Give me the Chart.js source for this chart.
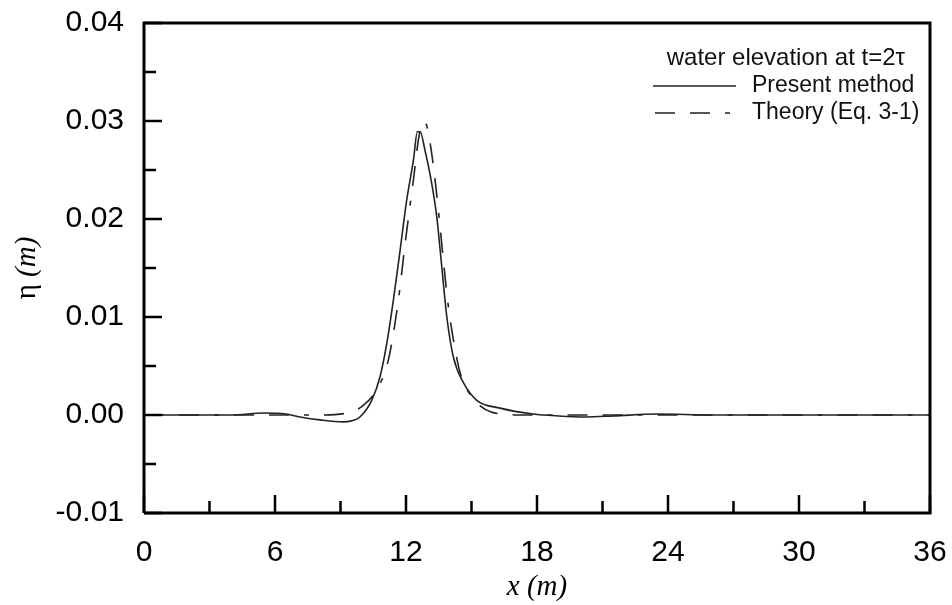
<!DOCTYPE html>
<html>
<head>
<meta charset="utf-8">
<script src="https://cdn.jsdelivr.net/npm/chart.js@4.4.0/dist/chart.umd.min.js"></script>
<style>
  html, body { margin: 0; padding: 0; background: #fff; }
  #wrap { width: 952px; height: 605px; }
</style>
</head>
<body>
<div id="wrap"><canvas id="grafico" width="952" height="605"></canvas></div>
<script>
// valores
const xPresente = [0, 2, 4, 5.5, 6.5, 7.15, 8.06, 9.12, 9.5, 9.89, 10.43, 10.81, 11.12, 11.42, 11.73, 12.03, 12.34, 12.52, 12.65, 12.87, 13.18, 13.41, 13.64, 13.87, 14.17, 14.63, 15.24, 16.31, 17.82, 19, 20.2, 21.5, 23.5, 26, 30, 36];
const yPresente = [0, 0, 0, 0.0002, 0.0001, -0.0002, -0.0005, -0.0007, -0.0006, -0.0002, 0.0015, 0.0039, 0.0073, 0.0117, 0.0168, 0.0219, 0.0260, 0.0289, 0.0289, 0.0270, 0.0236, 0.0202, 0.0151, 0.0100, 0.0059, 0.0033, 0.0015, 0.0007, 0.0001, -0.0001, -0.0002, -0.0001, 0.0001, 0, 0, 0];

const xTeoria = [0, 3, 6, 8, 9.3, 10.0, 10.66, 11.19, 11.65, 11.96, 12.34, 12.6, 12.85, 13.1, 13.33, 13.56, 13.71, 13.94, 14.17, 14.48, 14.9, 15.25, 15.9, 16.5, 17.1, 20, 24, 30, 36];
const yTeoria = [0, 0, 0, 0, 0.0002, 0.0009, 0.0026, 0.0056, 0.0117, 0.0175, 0.0240, 0.0285, 0.0300, 0.0278, 0.0240, 0.0192, 0.0158, 0.0111, 0.0077, 0.0043, 0.0022, 0.0012, 0.0003, 0.0001, 0, 0, 0, 0, 0];

const ticksX = [0, 6, 12, 18, 24, 30, 36];
const ticksY = [-0.01, 0.00, 0.01, 0.02, 0.03, 0.04];
const menoresX = [3, 9, 15, 21, 27, 33];
const menoresY = [-0.005, 0.005, 0.015, 0.025, 0.035];

const titulo = 'water elevation at t=2\u03c4';
const etiquetas = ['Present method', 'Theory (Eq. 3-1)'];

const trazo = [20, 15, 20, 15, 5, 15];

function puntos(xs, ys) {
    return xs.map((x, i) => ({ x: x, y: ys[i] }));
}

// marco, ticks hacia adentro, titulo del eje y y leyenda
const marcoYLeyenda = {
    id: 'marcoYLeyenda',
    afterDraw(chart) {
        const ctx = chart.ctx;
        const a = chart.chartArea;
        const sx = chart.scales.x;
        const sy = chart.scales.y;
        ctx.save();
        ctx.strokeStyle = '#000';
        ctx.lineWidth = 3;
        ctx.beginPath();
        ctx.moveTo(a.left, a.bottom);
        ctx.lineTo(a.left, a.top);
        ctx.lineTo(a.right, a.top);
        ctx.lineTo(a.right, a.bottom);
        ctx.lineTo(a.left, a.bottom);
        ctx.stroke();

        ctx.lineWidth = 2.5;
        ctx.beginPath();
        ticksX.forEach(v => {
            const p = sx.getPixelForValue(v);
            ctx.moveTo(p, a.bottom); ctx.lineTo(p, a.bottom - 18);
        });
        menoresX.forEach(v => {
            const p = sx.getPixelForValue(v);
            ctx.moveTo(p, a.bottom); ctx.lineTo(p, a.bottom - 12);
        });
        ticksY.forEach(v => {
            const p = sy.getPixelForValue(v);
            ctx.moveTo(a.left, p); ctx.lineTo(a.left + 18, p);
        });
        menoresY.forEach(v => {
            const p = sy.getPixelForValue(v);
            ctx.moveTo(a.left, p); ctx.lineTo(a.left + 12, p);
        });
        ctx.stroke();

        // titulo eje y: eta recta, (m) en cursiva
        ctx.save();
        ctx.translate(27, (a.top + a.bottom) / 2);
        ctx.rotate(-Math.PI / 2);
        ctx.fillStyle = '#000';
        ctx.textBaseline = 'middle';
        ctx.textAlign = 'left';
        const fEta = '29px "Liberation Serif", "Times New Roman", serif';
        const fM = 'italic 29px "Liberation Serif", "Times New Roman", serif';
        ctx.font = fEta;
        const w1 = ctx.measureText('\u03b7 ').width;
        ctx.font = fM;
        const w2 = ctx.measureText('(m)').width;
        const x0 = -(w1 + w2) / 2;
        ctx.font = fEta;
        ctx.fillText('\u03b7 ', x0, 0);
        ctx.font = fM;
        ctx.fillText('(m)', x0 + w1, 0);
        ctx.restore();

        ctx.fillStyle = '#111';
        ctx.font = '24px "Liberation Sans", Arial, sans-serif';
        ctx.textBaseline = 'middle';
        ctx.textAlign = 'right';
        ctx.fillText(titulo, 905, 58);
        ctx.font = '23px "Liberation Sans", Arial, sans-serif';
        ctx.textAlign = 'left';
        ctx.fillText(etiquetas[0], 752, 86);
        ctx.fillText(etiquetas[1], 752, 113);

        ctx.strokeStyle = '#222';
        ctx.lineWidth = 1.6;
        ctx.beginPath();
        ctx.moveTo(653, 86); ctx.lineTo(736, 86);
        ctx.stroke();
        ctx.setLineDash(trazo);
        ctx.beginPath();
        ctx.moveTo(655, 113); ctx.lineTo(736, 113);
        ctx.stroke();
        ctx.restore();
    }
};

const fuenteTicks = { family: '"Liberation Sans", Arial, sans-serif', size: 30 };
const fuenteTitulo = { family: '"Liberation Serif", "Times New Roman", serif', size: 29, style: 'italic' };

new Chart(document.getElementById('grafico').getContext('2d'), {
    type: 'line',
    data: {
        datasets: [{
            label: etiquetas[0],
            data: puntos(xPresente, yPresente),
            borderColor: '#222',
            borderWidth: 1.6,
            pointRadius: 0,
            fill: false,
            cubicInterpolationMode: 'monotone'
        }, {
            label: etiquetas[1],
            data: puntos(xTeoria, yTeoria),
            borderColor: '#222',
            borderWidth: 1.6,
            borderDash: trazo,
            pointRadius: 0,
            fill: false,
            cubicInterpolationMode: 'monotone'
        }]
    },
    options: {
        responsive: false,
        animation: false,
        layout: { padding: { top: 23, right: 22, left: 0, bottom: 0 } },
        plugins: {
            legend: { display: false },
            tooltip: { enabled: false }
        },
        scales: {
            x: {
                type: 'linear',
                min: 0,
                max: 36,
                afterBuildTicks: s => { s.ticks = ticksX.map(v => ({ value: v })); },
                afterFit: s => { s.height = 92; s.paddingLeft = 0; s.paddingRight = 0; },
                grid: { display: false, drawTicks: false },
                border: { display: false },
                ticks: { color: '#000', font: fuenteTicks, padding: 22, maxRotation: 0 },
                title: { display: true, text: 'x (m)', color: '#000', font: fuenteTitulo, padding: { top: 4, bottom: 0 } }
            },
            y: {
                type: 'linear',
                min: -0.01,
                max: 0.04,
                afterBuildTicks: s => { s.ticks = ticksY.map(v => ({ value: v })); },
                afterFit: s => { s.width = 144; s.paddingTop = 0; s.paddingBottom = 0; },
                grid: { display: false, drawTicks: false },
                border: { display: false },
                ticks: { color: '#000', font: fuenteTicks, padding: 20, callback: v => v.toFixed(2) },
                title: { display: false }
            }
        }
    },
    plugins: [marcoYLeyenda]
});
</script>
</body>
</html>
